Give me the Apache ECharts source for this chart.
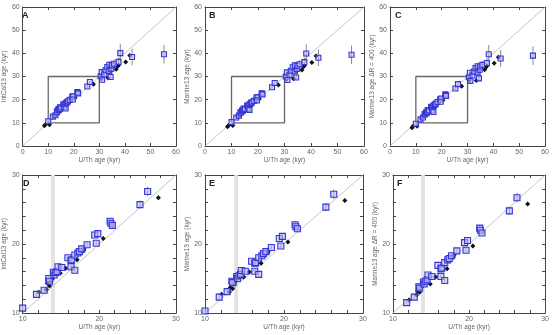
<!DOCTYPE html>
<html>
<head>
<meta charset="utf-8">
<script src="https://cdn.jsdelivr.net/npm/echarts@6/dist/echarts.min.js"></script>
<style>
  html, body { margin: 0; padding: 0; background: #fff; }
  #chart { width: 552px; height: 335px; }
</style>
</head>
<body>
<div id="chart"></div>
<script>
// U/Th ages of the corals (kyr) - blue squares
const blueX = [10.0, 11.8, 12.8, 13.4, 13.5, 14.0, 14.1, 14.3, 14.5, 14.6, 15.1, 15.9, 16.3, 16.4, 16.3,
  16.8, 16.8, 17.2, 17.4, 17.7, 18.4, 19.4, 19.8, 19.6, 21.4, 21.5, 21.7, 25.3, 26.3,
  30.5, 30.9, 31.1, 31.9, 32.4, 33.1, 33.9, 33.9, 34.7, 34.9, 34.4, 35.7, 37.5, 38.2, 42.8, 55.3];
const blueIntCal = [10.7, 12.7, 13.3, 15.0, 14.6, 15.9, 15.5, 15.85, 16.0, 16.7, 16.6, 18.0, 17.6, 17.7, 16.7,
  16.2, 18.4, 18.7, 18.9, 19.3, 19.9, 21.3, 21.5, 20.1, 23.3, 23.0, 22.7, 25.7, 27.6,
  30.1, 31.9, 28.6, 30.9, 32.7, 34.1, 32.4, 35.1, 33.4, 34.8, 29.8, 35.5, 36.3, 40.1, 38.4, 39.6];
const blueMarine = [10.3, 12.3, 13.1, 14.6, 14.4, 15.3, 15.0, 15.4, 15.6, 16.15, 16.05, 17.5, 17.2, 17.3, 16.05,
  15.6, 18.0, 18.3, 18.6, 18.9, 19.5, 20.8, 21.1, 19.7, 22.8, 22.5, 22.2, 25.35, 27.2,
  30.0, 31.8, 28.5, 30.7, 32.5, 34.0, 32.2, 34.8, 33.3, 34.6, 29.6, 35.3, 36.2, 39.9, 38.1, 39.4];
const blueMarineDR = [9.6, 11.5, 12.3, 13.8, 13.6, 14.5, 14.2, 14.6, 14.8, 15.5, 15.3, 16.9, 16.4, 16.5, 15.3,
  14.7, 17.3, 17.7, 17.9, 18.3, 19.0, 20.2, 20.5, 19.1, 22.3, 22.0, 21.6, 24.8, 26.7,
  29.7, 31.6, 28.1, 30.4, 32.1, 33.6, 31.8, 34.4, 32.9, 34.3, 29.2, 35.0, 35.8, 39.6, 37.8, 39.0];
const blueErr = [0.25, 0.25, 0.3, 0.3, 0.3, 0.3, 0.3, 0.3, 0.3, 0.3, 0.3, 0.3, 0.3, 0.3, 0.3,
  0.3, 0.3, 0.3, 0.3, 0.3, 0.35, 0.35, 0.35, 0.35, 0.45, 0.45, 0.45, 0.6, 0.7,
  0.8, 1.0, 0.9, 1.0, 1.0, 1.2, 1.0, 1.5, 1.2, 1.5, 1.0, 1.8, 2.0, 4.0, 3.6, 4.0];

// black diamonds
const blackX = [8.5, 8.9, 10.5, 12.1, 13.1, 13.2, 13.5, 13.7, 13.9, 14.0, 14.9, 15.6, 17.1, 17.95, 18.0,
  20.5, 27.7, 30.7, 33.4, 34.4, 36.6, 37.1, 37.5, 40.3, 41.9];
const blackIntCal = [8.7, 9.3, 9.2, 13.0, 13.4, 14.3, 13.9, 14.65, 15.0, 15.6, 15.75, 16.5, 17.7, 19.06, 19.3,
  20.8, 26.7, 29.1, 29.4, 32.2, 33.1, 34.4, 34.8, 36.3, 39.1];
const blackMarine = [8.3, 8.9, 8.9, 12.7, 13.05, 13.7, 13.5, 14.2, 14.6, 15.1, 15.2, 15.95, 17.2, 18.7, 18.95,
  20.3, 26.3, 28.9, 29.0, 32.0, 32.8, 34.2, 34.6, 36.0, 38.8];
const blackMarineDR = [7.9, 8.5, 8.5, 11.9, 12.6, 13.2, 13.0, 13.7, 14.0, 14.4, 14.2, 15.2, 16.4, 18.1, 18.4,
  19.7, 25.8, 28.5, 28.3, 32.0, 32.9, 34.0, 34.5, 35.7, 38.3];
const blackErr = [0.25, 0.25, 0.25, 0.25, 0.25, 0.25, 0.25, 0.25, 0.25, 0.25, 0.25, 0.3, 0.3, 0.3, 0.3,
  0.3, 0.3, 0.5, 0.5, 0.6, 0.6, 0.6, 0.7, 0.7, 0.8];

const panelLetters = ['A', 'B', 'C', 'D', 'E', 'F'];
const yNames = ['IntCal13 age (kyr)', 'Marine13 age (kyr)', 'Marine13 age \u0394R = 400 (kyr)'];
const xName = 'U/Th age (kyr)';
const fullRange = [0, 60];
const zoomRange = [10, 30];
const shadeBand = [13.7, 14.2];

const blueY = [blueIntCal, blueMarine, blueMarineDR];
const blackY = [blackIntCal, blackMarine, blackMarineDR];

const grids = [
  { left: 18, top: 7, width: 158, height: 139 },
  { left: 205, top: 7, width: 159, height: 139 },
  { left: 390, top: 7, width: 160, height: 139 },
  { left: 19, top: 175, width: 157, height: 138 },
  { left: 205, top: 175, width: 158, height: 138 },
  { left: 393, top: 175, width: 157, height: 138 }
];
const letterPos = [[22, 11], [209, 11], [395, 11], [23, 179], [209, 179], [397, 179]];

const FONT = 'Liberation Sans';
const labelColor = '#666';
const lineColor = '#444';

function errRender(params, api) {
  const cs = params.coordSys;
  const x = api.value(0), y = api.value(1), e = api.value(2);
  const p1 = api.coord([x, y - e]);
  const p2 = api.coord([x, y + e]);
  if (p1[0] < cs.x || p1[0] > cs.x + cs.width) return null;
  const top = cs.y, bot = cs.y + cs.height;
  const y1 = Math.min(Math.max(p1[1], top), bot);
  const y2 = Math.min(Math.max(p2[1], top), bot);
  if (y1 === y2) return null;
  return {
    type: 'line',
    shape: { x1: p1[0], y1: y1, x2: p2[0], y2: y2 },
    style: { stroke: '#8a8a8a', lineWidth: 1 }
  };
}

let xAxes = [], yAxes = [], series = [], graphics = [];

for (let i = 0; i < 6; i++) {
  const cal = i % 3;
  const zoomed = i >= 3;
  const [lo, hi] = zoomed ? zoomRange : fullRange;
  const common = {
    gridIndex: i, type: 'value', min: lo, max: hi, interval: 10,
    splitLine: { show: false },
    axisLine: { show: true, onZero: false, lineStyle: { color: lineColor, width: 1 } },
    axisTick: { show: true, inside: true, length: 3, lineStyle: { color: lineColor } },
    minorTick: { show: zoomed, splitNumber: 5, length: 3, lineStyle: { color: lineColor } },
    minorSplitLine: { show: false }
  };
  xAxes.push(Object.assign({}, common, {
    position: 'bottom',
    name: xName, nameLocation: 'middle', nameGap: 11,
    nameTextStyle: { fontFamily: FONT, fontSize: 6.5, color: labelColor },
    axisLabel: { fontFamily: FONT, fontSize: 7, color: labelColor, margin: 3 }
  }));
  xAxes.push(Object.assign({}, common, { position: 'top', axisLabel: { show: false } }));
  yAxes.push(Object.assign({}, common, {
    position: 'left',
    name: yNames[cal], nameLocation: 'middle', nameGap: 10,
    nameTextStyle: { fontFamily: FONT, fontSize: 6.5, color: labelColor },
    axisLabel: { fontFamily: FONT, fontSize: 7, color: labelColor, margin: 3 }
  }));
  yAxes.push(Object.assign({}, common, { position: 'right', axisLabel: { show: false } }));

  const xi = 2 * i, yi = 2 * i;
  const diag = {
    type: 'line', xAxisIndex: xi, yAxisIndex: yi, silent: true, symbol: 'none',
    data: [[lo, lo], [hi, hi]],
    lineStyle: { color: '#aaa', width: 0.7 },
    z: 1
  };
  if (zoomed) {
    diag.markArea = {
      silent: true,
      itemStyle: { color: '#e2e2e2' },
      data: [[{ xAxis: shadeBand[0] }, { xAxis: shadeBand[1] }]]
    };
  }
  series.push(diag);
  if (!zoomed) {
    const [a, b] = zoomRange;
    series.push({
      type: 'line', xAxisIndex: xi, yAxisIndex: yi, silent: true, symbol: 'none',
      data: [[a, a], [b, a], [b, b], [a, b], [a, a]],
      lineStyle: { color: '#666', width: 1.3 },
      z: 1
    });
  }
  series.push({
    type: 'custom', xAxisIndex: xi, yAxisIndex: yi, silent: true,
    renderItem: errRender,
    data: blackX.map((x, k) => [x, blackY[cal][k], blackErr[k]]),
    z: 2
  });
  series.push({
    type: 'custom', xAxisIndex: xi, yAxisIndex: yi, silent: true,
    renderItem: errRender,
    data: blueX.map((x, k) => [x, blueY[cal][k], blueErr[k]]),
    z: 2
  });
  series.push({
    type: 'scatter', xAxisIndex: xi, yAxisIndex: yi, silent: true,
    symbol: 'diamond', symbolSize: 5,
    itemStyle: { color: '#111', opacity: 1 },
    data: blackX.map((x, k) => [x, blackY[cal][k]]),
    z: 3
  });
  series.push({
    type: 'scatter', xAxisIndex: xi, yAxisIndex: yi, silent: true,
    symbol: 'rect', symbolSize: zoomed ? 6 : 5,
    itemStyle: { color: 'rgba(185,185,240,0.6)', borderColor: '#3535d8', borderWidth: 1.1, opacity: 1 },
    data: blueX.map((x, k) => [x, blueY[cal][k]]),
    z: 4
  });

  graphics.push({
    type: 'text', left: letterPos[i][0], top: letterPos[i][1],
    style: { text: panelLetters[i], font: 'bold 9px "Liberation Sans"', fill: '#222' }
  });
}

const chart = echarts.init(document.getElementById('chart'), null, { renderer: 'canvas' });
chart.setOption({
  animation: false,
  backgroundColor: '#fff',
  grid: grids.map(g => Object.assign({ containLabel: false }, g)),
  xAxis: xAxes,
  yAxis: yAxes,
  series: series,
  graphic: graphics
});
</script>
</body>
</html>
